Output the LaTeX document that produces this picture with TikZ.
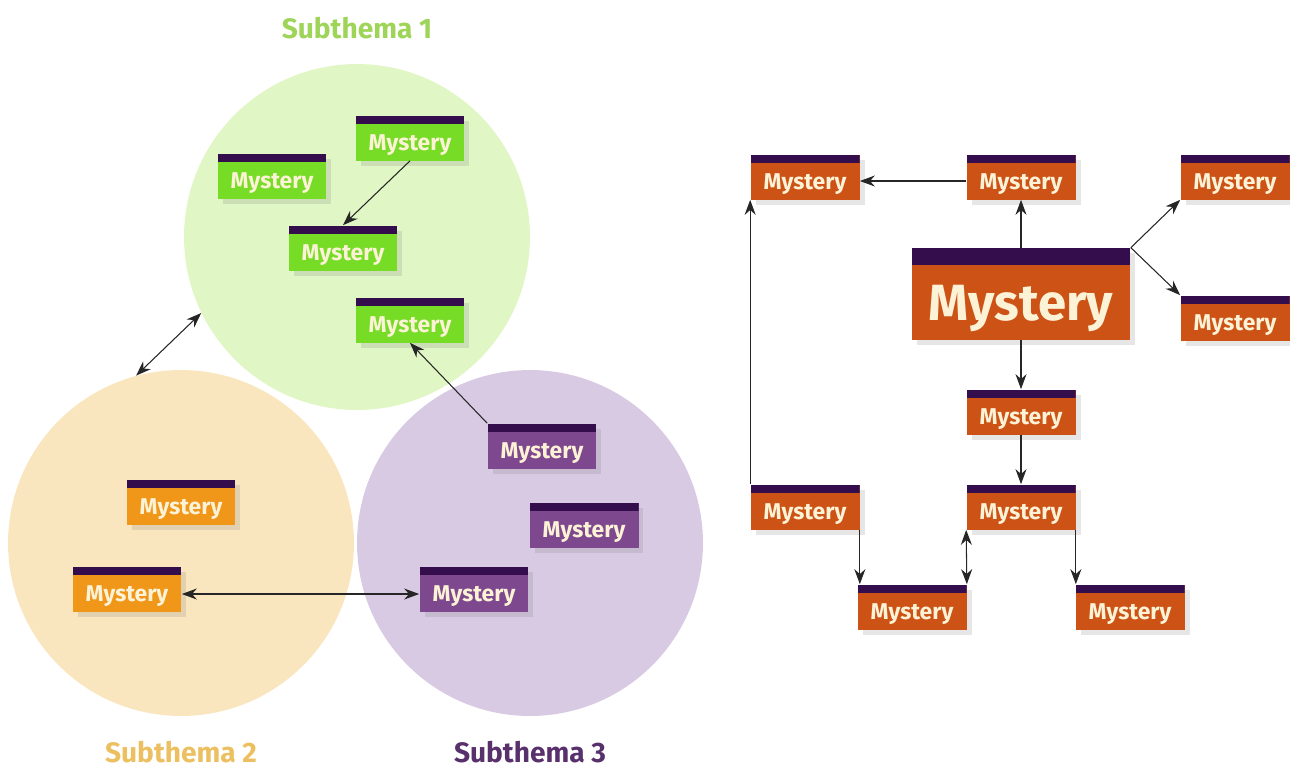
\documentclass[tikz,border=0pt]{standalone}
\usepackage{fontspec}
\setmainfont{Fira Sans}
\usetikzlibrary{arrows.meta, shadows}

\definecolor{greencirc}{RGB}{224,246,196}
\definecolor{greenbox}{RGB}{118,220,38}
\definecolor{greentitle}{RGB}{158,212,88}
\definecolor{orangecirc}{RGB}{250,230,190}
\definecolor{orangebox}{RGB}{240,150,25}
\definecolor{orangetitle}{RGB}{236,192,96}
\definecolor{purplecirc}{RGB}{216,202,226}
\definecolor{purplebox}{RGB}{126,72,142}
\definecolor{purpletitle}{RGB}{88,48,108}
\definecolor{rustbox}{RGB}{205,82,22}
\definecolor{barc}{RGB}{52,14,76}
\definecolor{boxtext}{RGB}{252,242,214}

\tikzstyle{group} = [circle, minimum size=6.92cm, inner sep=0pt]
\tikzstyle{theme} = [font=\fontsize{16}{16}\selectfont\bfseries]
\tikzstyle{mbox} = [rectangle, fill=#1, text=boxtext, minimum width=2.18cm, minimum height=0.9cm, inner sep=0pt, font=\fontsize{13}{13}\selectfont\bfseries, text height=0.48cm, text depth=0pt, drop shadow={opacity=0.2, shadow xshift=0.1cm, shadow yshift=-0.1cm}, path picture={\fill[barc] (path picture bounding box.north west) rectangle ([yshift=-0.16cm]path picture bounding box.north east);}]
\tikzstyle{bigbox} = [rectangle, fill=rustbox, text=boxtext, minimum width=4.38cm, minimum height=1.84cm, inner sep=0pt, font=\fontsize{29}{29}\selectfont\bfseries, text height=1.05cm, text depth=0pt, drop shadow={opacity=0.2, shadow xshift=0.1cm, shadow yshift=-0.1cm}, path picture={\fill[barc] (path picture bounding box.north west) rectangle ([yshift=-0.34cm]path picture bounding box.north east);}]
\tikzstyle{arrow} = [draw=black!85, line width=0.6pt, -{Stealth[length=0.3cm, width=0.22cm]}]
\tikzstyle{twoway} = [draw=black!85, line width=0.6pt, {Stealth[length=0.3cm, width=0.22cm]}-{Stealth[length=0.3cm, width=0.22cm]}]

\begin{document}
\begin{tikzpicture}[x=0.02cm, y=-0.02cm]
\useasboundingbox (0,0) rectangle (1290,769);

% Groups
\node (sub1) [group, fill=greencirc] at (357,237) {};
\node (sub2) [group, fill=orangecirc] at (181,543) {};
\node (sub3) [group, fill=purplecirc] at (530,543) {};
\node (sub1t) [theme, text=greentitle] at (357,28) {Subthema 1};
\node (sub2t) [theme, text=orangetitle] at (181,752) {Subthema 2};
\node (sub3t) [theme, text=purpletitle] at (530,752) {Subthema 3};

\draw [twoway] (sub1.206) -- (sub2.105);

% Nodes, left
\node (g1) [mbox=greenbox] at (410,138) {Mystery};
\node (g2) [mbox=greenbox] at (272,176) {Mystery};
\node (g3) [mbox=greenbox] at (343,248) {Mystery};
\node (g4) [mbox=greenbox] at (410,320) {Mystery};
\node (p1) [mbox=purplebox] at (542,446) {Mystery};
\node (p2) [mbox=purplebox] at (584,525) {Mystery};
\node (p3) [mbox=purplebox] at (474,589) {Mystery};
\node (o1) [mbox=orangebox] at (181,502) {Mystery};
\node (o2) [mbox=orangebox] at (127,589) {Mystery};

% Nodes, right
\node (main) [bigbox] at (1021,294) {Mystery};
\node (r1) [mbox=rustbox] at (805,177) {Mystery};
\node (r2) [mbox=rustbox] at (1021,177) {Mystery};
\node (r3) [mbox=rustbox] at (1235,177) {Mystery};
\node (r4) [mbox=rustbox] at (1235,318) {Mystery};
\node (r5) [mbox=rustbox] at (1021,412) {Mystery};
\node (r6) [mbox=rustbox] at (805,507) {Mystery};
\node (r7) [mbox=rustbox] at (1021,507) {Mystery};
\node (r8) [mbox=rustbox] at (912,607) {Mystery};
\node (r9) [mbox=rustbox] at (1130,607) {Mystery};

% Arrows
\draw [arrow] (g1.south) -- (g3.north);
\draw [arrow] (p1.north west) -- (g4.south);
\draw [twoway] ([yshift=-0.1cm]o2.east) -- ([yshift=-0.1cm]p3.west);

\draw [arrow] ([yshift=-0.08cm]r2.west) -- ([yshift=-0.08cm]r1.east);
\draw [arrow] (main.north) -- (r2.south);
\draw [arrow] (main.north east) -- (r3.south west);
\draw [arrow] (main.north east) -- (r4.north west);
\draw [arrow] (main.south) -- (r5.north);
\draw [arrow] (r5.south) -- (r7.north);
\draw [arrow] (r6.north west) -- (r1.south west);
\draw [arrow] (r6.south east) -- (r6.south east |- r8.north);
\draw [twoway] (r8.north east) -- (r7.south west);
\draw [arrow] (r7.south east) -- (r7.south east |- r9.north);

\end{tikzpicture}
\end{document}
